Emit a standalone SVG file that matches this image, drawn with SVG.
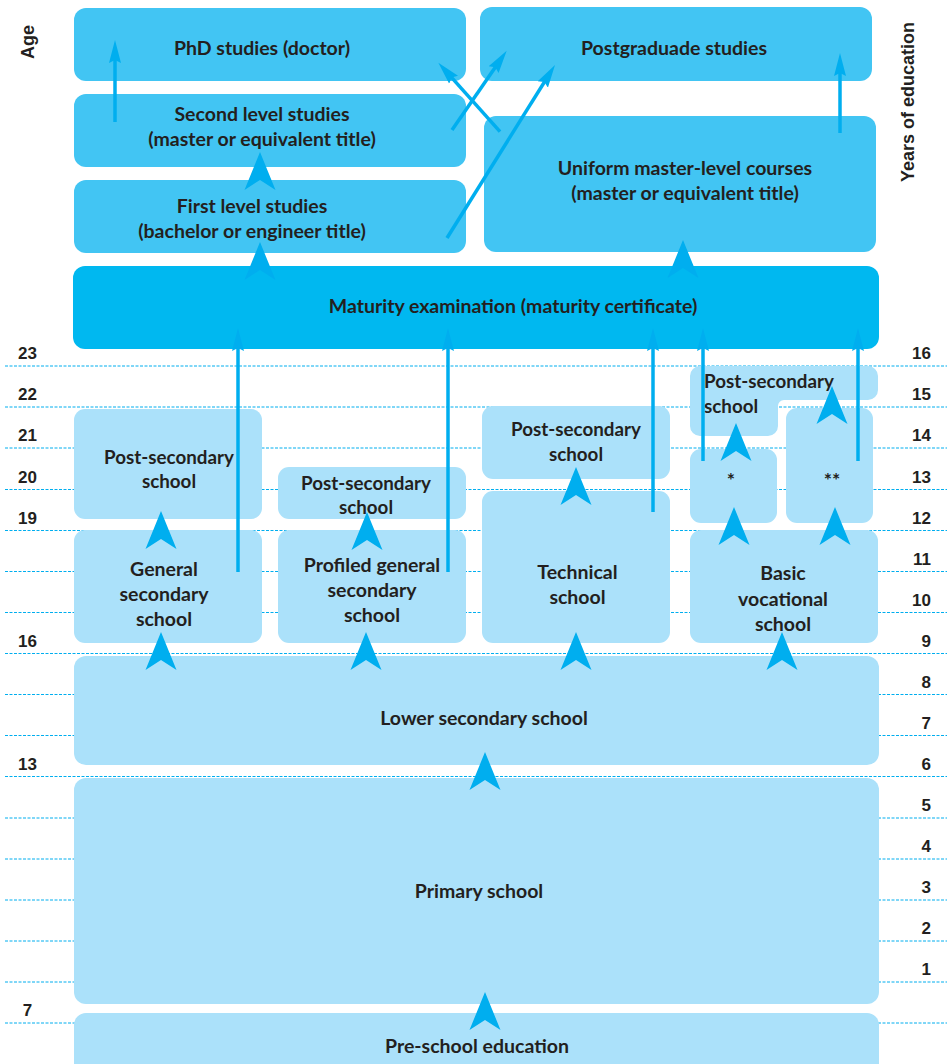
<svg xmlns="http://www.w3.org/2000/svg" width="947" height="1064" viewBox="0 0 947 1064">
<style>
.grid line{stroke:#00AEEF;stroke-width:1;stroke-dasharray:3 1.5}
.top{fill:#42C5F3}
.mat{fill:#00B8F0}
.lt{fill:#ABE1FA}
.t{font-family:Lato,"Open Sans",sans-serif;font-weight:bold;font-size:19.5px;fill:#231F20;text-anchor:middle}
.ps{font-size:18.8px}
.tl{text-anchor:start}
.n{font-family:"Liberation Sans",Arial,sans-serif;font-weight:bold;font-size:17px;fill:#231F20}
.nl{text-anchor:middle}
.nr{text-anchor:end}
.ax{font-family:"Liberation Sans",Arial,sans-serif;font-weight:bold;font-size:18px;fill:#231F20;text-anchor:middle}
.ln{stroke:#00AEEF;stroke-width:3.5;fill:none;marker-end:url(#ah)}
.chev{fill:#00AEEF}
</style>
<defs>
<marker id="ah" markerUnits="userSpaceOnUse" viewBox="0 -7 24 14" refX="13" refY="0" markerWidth="24" markerHeight="14" orient="auto">
<path d="M0,-6 L23,0 L0,6 L3,0 Z" fill="#00AEEF"/>
</marker>
<path id="cv" d="M0,0 L15.5,38 L0,28 L-15.5,38 Z"/>
</defs>

<g id="grid" class="grid">
<line x1="5" y1="366" x2="947" y2="366"/>
<line x1="5" y1="407" x2="947" y2="407"/>
<line x1="5" y1="448" x2="947" y2="448"/>
<line x1="5" y1="489.5" x2="947" y2="489.5"/>
<line x1="5" y1="530.5" x2="947" y2="530.5"/>
<line x1="5" y1="571.5" x2="947" y2="571.5"/>
<line x1="5" y1="612.5" x2="947" y2="612.5"/>
<line x1="5" y1="653.5" x2="947" y2="653.5"/>
<line x1="5" y1="694.5" x2="947" y2="694.5"/>
<line x1="5" y1="735.5" x2="947" y2="735.5"/>
<line x1="5" y1="776.5" x2="947" y2="776.5"/>
<line x1="5" y1="818" x2="947" y2="818"/>
<line x1="5" y1="859" x2="947" y2="859"/>
<line x1="5" y1="900" x2="947" y2="900"/>
<line x1="5" y1="941" x2="947" y2="941"/>
<line x1="5" y1="982" x2="947" y2="982"/>
<line x1="5" y1="1023" x2="947" y2="1023"/>
</g>

<g id="axis-labels">
<text class="ax" transform="translate(34,42) rotate(-90)">Age</text>
<text class="ax" transform="translate(914,102) rotate(-90)">Years of education</text>
<g class="n nl">
<text x="27.5" y="359">23</text>
<text x="27.5" y="400">22</text>
<text x="27.5" y="441">21</text>
<text x="27.5" y="482.5">20</text>
<text x="27.5" y="523.5">19</text>
<text x="27.5" y="646.5">16</text>
<text x="27.5" y="769.5">13</text>
<text x="27.5" y="1016">7</text>
</g>
<g class="n nr">
<text x="931" y="359">16</text>
<text x="931" y="400">15</text>
<text x="931" y="441">14</text>
<text x="931" y="482.5">13</text>
<text x="931" y="523.5">12</text>
<text x="931" y="564.5">11</text>
<text x="931" y="605.5">10</text>
<text x="931" y="646.5">9</text>
<text x="931" y="687.5">8</text>
<text x="931" y="728.5">7</text>
<text x="931" y="769.5">6</text>
<text x="931" y="811">5</text>
<text x="931" y="852">4</text>
<text x="931" y="893">3</text>
<text x="931" y="934">2</text>
<text x="931" y="975">1</text>
</g>
</g>

<g id="phd">
<rect class="top" x="74" y="8" width="392" height="73" rx="12"/>
<text class="t" x="262" y="55">PhD studies (doctor)</text>
</g>
<g id="postgraduate">
<rect class="top" x="480" y="7" width="392" height="74" rx="12"/>
<text class="t" x="674" y="55">Postgraduade studies</text>
</g>
<g id="second-level">
<rect class="top" x="74" y="94" width="392" height="73" rx="12"/>
<text class="t" x="262" y="120.5">Second level studies</text>
<text class="t" x="262" y="145.5">(master or equivalent title)</text>
</g>
<g id="first-level">
<rect class="top" x="74" y="180" width="392" height="73" rx="12"/>
<text class="t" x="252" y="212.5">First level studies</text>
<text class="t" x="252" y="237.5">(bachelor or engineer title)</text>
</g>
<g id="uniform-master">
<rect class="top" x="484" y="116" width="392" height="136" rx="12"/>
<text class="t" x="685" y="175">Uniform master-level courses</text>
<text class="t" x="685" y="200">(master or equivalent title)</text>
</g>
<g id="maturity">
<rect class="mat" x="73" y="266" width="806" height="83" rx="12"/>
<text class="t" x="513" y="313">Maturity examination (maturity certificate)</text>
</g>

<g id="gen-postsec">
<rect class="lt" x="74" y="409" width="188" height="110" rx="11"/>
<text class="t ps" x="169" y="464">Post-secondary</text>
<text class="t ps" x="169" y="488">school</text>
</g>
<g id="general-secondary">
<rect class="lt" x="74" y="530" width="188" height="113" rx="11"/>
<text class="t" x="164" y="576">General</text>
<text class="t" x="164" y="601">secondary</text>
<text class="t" x="164" y="626">school</text>
</g>
<g id="prof-postsec">
<rect class="lt" x="278" y="467" width="188" height="52" rx="11"/>
<text class="t ps" x="366" y="490">Post-secondary</text>
<text class="t ps" x="366" y="514">school</text>
</g>
<g id="profiled-secondary">
<rect class="lt" x="278" y="530" width="188" height="113" rx="11"/>
<text class="t" x="372" y="572">Profiled general</text>
<text class="t" x="372" y="597">secondary</text>
<text class="t" x="372" y="622">school</text>
</g>
<g id="tech-postsec">
<rect class="lt" x="482" y="406" width="188" height="73" rx="11"/>
<text class="t ps" x="576" y="436">Post-secondary</text>
<text class="t ps" x="576" y="460.5">school</text>
</g>
<g id="technical">
<rect class="lt" x="482" y="491" width="188" height="152" rx="11"/>
<text class="t" x="577.5" y="579">Technical</text>
<text class="t" x="577.5" y="604">school</text>
</g>
<g id="voc-postsec">
<path class="lt" d="M700,366 H868 A10,10 0 0 1 878,376 V390 A10,10 0 0 1 868,400 H784 A6,6 0 0 0 778,406 V426 A10,10 0 0 1 768,436 H700 A10,10 0 0 1 690,426 V376 A10,10 0 0 1 700,366 Z"/>
<text class="t ps tl" x="704" y="388">Post-secondary</text>
<text class="t ps tl" x="704" y="412.5">school</text>
</g>
<g id="star1">
<rect class="lt" x="690" y="449" width="87" height="74" rx="11"/>
<text class="t" x="731" y="487">*</text>
</g>
<g id="star2">
<rect class="lt" x="786" y="408" width="87" height="115" rx="11"/>
<text class="t" x="832" y="487">**</text>
</g>
<g id="basic-vocational">
<rect class="lt" x="690" y="530" width="188" height="113" rx="11"/>
<text class="t" x="783" y="580">Basic</text>
<text class="t" x="783" y="606">vocational</text>
<text class="t" x="783" y="631">school</text>
</g>
<g id="lower-secondary">
<rect class="lt" x="74" y="656" width="805" height="109" rx="12"/>
<text class="t" x="484" y="725">Lower secondary school</text>
</g>
<g id="primary">
<rect class="lt" x="74" y="778" width="805" height="226" rx="12"/>
<text class="t" x="479" y="898">Primary school</text>
</g>
<g id="preschool">
<rect class="lt" x="74" y="1013" width="805" height="70" rx="12"/>
<text class="t" x="477" y="1053">Pre-school education</text>
</g>

<g id="connectors">
<line class="ln" x1="115" y1="122" x2="115" y2="50"/>
<line class="ln" x1="452" y1="130" x2="501" y2="58.9"/>
<line class="ln" x1="500" y1="131.7" x2="445" y2="70.1"/>
<line class="ln" x1="447" y1="238" x2="549.7" y2="73.5"/>
<line class="ln" x1="840" y1="133" x2="840" y2="63"/>
<line class="ln" x1="238" y1="572" x2="238" y2="338"/>
<line class="ln" x1="448" y1="572" x2="448" y2="338"/>
<line class="ln" x1="653" y1="512" x2="653" y2="338"/>
<line class="ln" x1="703" y1="461" x2="703" y2="338"/>
<line class="ln" x1="858" y1="461" x2="858" y2="338"/>
<g class="chev">
<use href="#cv" x="260" y="152"/>
<use href="#cv" x="260" y="242"/>
<use href="#cv" x="683" y="240"/>
<use href="#cv" x="161" y="511"/>
<use href="#cv" x="367" y="512"/>
<use href="#cv" x="576" y="467"/>
<use href="#cv" x="736" y="423"/>
<use href="#cv" x="832" y="386"/>
<use href="#cv" x="734" y="507"/>
<use href="#cv" x="835" y="507"/>
<use href="#cv" x="161" y="632"/>
<use href="#cv" x="366" y="632"/>
<use href="#cv" x="576" y="632"/>
<use href="#cv" x="782" y="632"/>
<use href="#cv" x="485" y="752"/>
<use href="#cv" x="485" y="992"/>
</g>
</g>
</svg>
